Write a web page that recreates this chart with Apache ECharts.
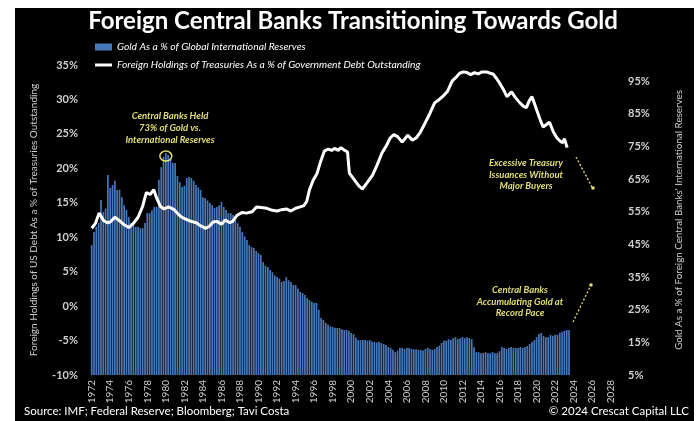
<!DOCTYPE html>
<html><head><meta charset="utf-8">
<script src="https://cdn.jsdelivr.net/npm/echarts@6/dist/echarts.min.js"></script>
<style>html,body{margin:0;padding:0;background:#fff;} #c{width:699px;height:421px;}</style>
</head><body><div id="c"></div>
<script>
const titleText = 'Foreign Central Banks Transitioning Towards Gold';
const goldSeriesName = 'Gold As a % of Global International Reserves';
const treasSeriesName = 'Foreign Holdings of Treasuries As a % of Government Debt Outstanding';
const leftAxisTitle = 'Foreign Holdings of US Debt As a % of Treasuries Outstanding';
const rightAxisTitle = "Gold As a % of Foreign Central Banks' International Reserves";
const sourceText = 'Source: IMF; Federal Reserve; Bloomberg; Tavi Costa';
const copyrightText = '\u00A9 2024 Crescat Capital LLC';
const xTickYears = [1972,1974,1976,1978,1980,1982,1984,1986,1988,1990,1992,1994,1996,1998,2000,2002,2004,2006,2008,2010,2012,2014,2016,2018,2020,2022,2024,2026,2028];

// Gold as % of reserves, quarterly from 1972 Q1 (right axis)
const goldStartYear = 1972;
const goldPct = [
  44.8,48.8,50.5,51.6, 58.6,55.0,56.0,66.3, 62.3,63.2,64.5,61.7, 61.7,59.5,57.0,55.6,
  53.4,51.6,51.0,50.4, 50.4,50.0,50.0,51.6, 54.6,54.6,55.5,56.5, 56.5,64.8,68.7,71.8,
  73.0,72.4,71.5,70.0, 70.0,66.0,64.1,62.6, 63.0,65.4,65.7,65.4, 64.5,63.2,62.5,61.7,
  59.5,59.2,58.5,57.7, 57.0,56.2,56.5,57.0, 58.0,56.5,55.6,54.6, 54.6,54.0,52.5,51.5,
  50.4,48.8,47.5,46.4, 44.8,44.2,43.9,43.0, 42.4,41.8,39.6,38.5, 38.1,37.2,36.5,35.5,
  35.0,34.5,33.5,33.8, 35.0,34.0,33.5,32.6, 32.6,31.5,30.5,30.1, 29.5,28.6,28.0,27.5,
  27.1,27.1,25.0,22.5, 21.9,21.0,20.5,19.9, 19.7,19.5,19.4,19.4, 19.0,18.8,18.8,18.5,
  17.9,17.5,16.5,15.7, 15.7,15.7,15.7,15.5, 15.7,15.3,15.1,15.0, 15.1,14.8,14.5,14.2,
  13.6,13.3,12.7,12.0, 12.5,13.3,13.3,13.0, 13.3,13.3,13.0,12.9, 12.9,12.7,12.7,12.5,
  13.0,13.3,13.0,12.7, 13.0,13.6,14.0,14.8, 15.5,15.5,16.0,15.7, 16.3,16.6,16.0,16.3,
  16.6,16.3,16.6,16.3, 16.0,13.5,12.0,12.0, 11.7,11.8,12.0,11.7, 11.7,12.0,11.7,11.7,
  12.3,13.6,13.3,13.0, 13.3,13.6,13.3,13.3, 13.3,13.6,13.3,13.6, 13.9,14.5,15.1,15.7,
  16.6,17.6,17.9,17.0, 16.6,16.6,17.3,17.0, 17.3,17.3,17.9,18.2, 18.5,18.8,18.8
];

// Foreign holdings of Treasuries % (left axis), [year, value]
const treasPct = [
  [1972.0,11.3],[1972.4,12.0],[1972.8,13.5],[1973.3,12.4],[1973.7,12.1],[1974.0,12.2],[1974.5,12.9],
  [1975.0,12.4],[1975.5,11.8],[1976.0,11.4],[1976.5,12.0],[1977.0,12.9],[1977.5,14.5],[1977.9,16.5],
  [1978.3,16.2],[1978.7,16.9],[1979.0,15.7],[1979.4,14.5],[1979.8,14.1],[1980.3,14.4],[1980.9,14.0],
  [1981.3,13.4],[1981.7,12.9],[1982.2,12.6],[1982.7,12.3],[1983.3,12.1],[1983.8,11.6],[1984.3,11.3],
  [1984.7,11.6],[1985.1,12.2],[1985.5,12.3],[1986.0,11.9],[1986.4,12.5],[1986.9,12.1],[1987.2,12.3],
  [1987.7,13.2],[1988.2,13.6],[1988.7,13.5],[1989.3,13.7],[1989.8,14.4],[1990.3,14.3],[1990.9,14.2],
  [1991.5,13.9],[1992.0,13.8],[1992.5,14.0],[1993.0,14.1],[1993.5,13.8],[1994.0,14.2],[1994.5,14.4],
  [1994.9,14.6],[1995.2,15.2],[1995.5,16.9],[1995.9,18.3],[1996.3,19.2],[1996.7,21.0],[1997.1,22.5],
  [1997.5,22.8],[1997.9,22.6],[1998.2,22.9],[1998.6,22.6],[1998.9,23.0],[1999.3,22.6],[1999.6,22.4],
  [1999.8,19.3],[2000.3,18.4],[2000.8,17.5],[2001.2,17.0],[2001.7,17.9],[2002.3,19.0],[2002.8,20.5],
  [2003.3,22.2],[2003.8,23.3],[2004.2,24.4],[2004.6,24.9],[2005.0,24.6],[2005.5,23.8],[2006.1,24.8],
  [2006.6,24.1],[2007.0,24.4],[2007.4,25.1],[2007.9,26.4],[2008.5,28.0],[2009.0,29.5],[2009.5,30.0],
  [2010.0,30.6],[2010.4,31.2],[2010.9,32.7],[2011.3,33.2],[2011.7,33.8],[2012.1,34.0],[2012.5,33.9],
  [2012.9,33.6],[2013.3,33.9],[2013.7,33.7],[2014.1,34.0],[2014.6,34.0],[2015.0,33.8],[2015.3,33.7],
  [2015.7,33.0],[2016.0,32.4],[2016.4,31.5],[2016.8,30.4],[2017.3,31.1],[2017.7,30.3],[2018.2,29.5],
  [2018.6,29.0],[2018.9,28.8],[2019.2,29.8],[2019.5,30.4],[2019.8,29.3],[2020.0,28.5],[2020.4,27.0],
  [2020.7,26.0],[2021.0,26.3],[2021.4,26.7],[2021.8,25.3],[2022.2,24.4],[2022.5,24.0],[2022.8,23.7],
  [2023.0,24.3],[2023.3,23.0]
];

const annotPeak = ['Central Banks Held', '73% of Gold vs.', 'International Reserves'];
const annotTreasury = ['Excessive Treasury', 'Issuances Without', 'Major Buyers'];
const annotGold = ['Central Banks', 'Accumulating Gold at', 'Record Pace'];

const goldData = goldPct.map((v, i) => [goldStartYear + i * 0.25, v]);

const FONT = 'Lato, "Liberation Sans", sans-serif';
const YEL = '#e2dd74';
const LBL = '#cfcfcf';

const chart = echarts.init(document.getElementById('c'), null, {renderer: 'canvas'});

function textLines(lines, cx, y0, dy) {
  return lines.map((t, i) => ({
    type: 'text', x: cx, y: y0 + i * dy, z: 50,
    style: {text: t, fill: YEL, font: 'italic bold 9.5px ' + FONT, textAlign: 'center', textVerticalAlign: 'middle'}
  }));
}

const option = {
  backgroundColor: '#000',
  animation: false,
  textStyle: {fontFamily: FONT},
  grid: {left: 88, right: 79, top: 65, bottom: 46, containLabel: false},
  legend: {
    orient: 'vertical', left: 95, top: 42, padding: 0, itemGap: 8, itemWidth: 17, itemHeight: 7,
    textStyle: {color: '#ffffff', fontStyle: 'italic', fontSize: 10.3, fontFamily: FONT},
    data: [
      {name: goldSeriesName, icon: 'rect'},
      {name: treasSeriesName, icon: 'path://M0,0H17V3H0Z', itemStyle: {color: '#ffffff'}}
    ]
  },
  xAxis: {
    type: 'value', min: 1971.6, max: 2029,
    axisLine: {show: false}, axisTick: {show: false}, splitLine: {show: false},
    axisLabel: {
      customValues: xTickYears, rotate: 90, color: LBL, fontSize: 10, margin: 5,
      formatter: v => String(v)
    }
  },
  yAxis: [
    {
      type: 'value', min: -10, max: 35, interval: 5, position: 'left',
      axisLine: {show: false}, axisTick: {show: false}, splitLine: {show: false},
      axisLabel: {formatter: '{value}%', color: LBL, fontSize: 11, fontWeight: 'bold', margin: 10},
      name: leftAxisTitle, nameLocation: 'middle', nameGap: 49,
      nameTextStyle: {color: LBL, fontSize: 10}
    },
    {
      type: 'value', min: 5, max: 100, interval: 10, position: 'right',
      axisLine: {show: false}, axisTick: {show: false}, splitLine: {show: false},
      axisLabel: {formatter: '{value}%', color: LBL, fontSize: 11, fontWeight: 'bold', margin: 8, showMaxLabel: false},
      name: rightAxisTitle, nameLocation: 'middle', nameGap: 54, nameRotate: 90,
      nameTextStyle: {color: LBL, fontSize: 9.8}
    }
  ],
  series: [
    {
      name: goldSeriesName, type: 'bar', yAxisIndex: 1, data: goldData,
      barWidth: 1.7, itemStyle: {color: '#4778b9'}, z: 2
    },
    {
      name: treasSeriesName, type: 'line', yAxisIndex: 0, data: treasPct,
      symbol: 'none', lineStyle: {color: '#ffffff', width: 3}, itemStyle: {color: '#ffffff'}, z: 5
    }
  ]
};
chart.setOption(option);

// annotation positioned on the peak bar
let peakIdx = 0;
goldPct.forEach((v, i) => { if (v > goldPct[peakIdx]) peakIdx = i; });
const peakPx = chart.convertToPixel({xAxisIndex: 0, yAxisIndex: 1}, goldData[peakIdx]);

const graphics = [
  {type: 'rect', shape: {x: 0, y: 0, width: 15, height: 421}, style: {fill: '#fff'}, z: 100},
  {type: 'rect', shape: {x: 694, y: 0, width: 5, height: 421}, style: {fill: '#fff'}, z: 100},
  {type: 'rect', shape: {x: 0, y: 0, width: 699, height: 8}, style: {fill: '#fff'}, z: 100},
  {type: 'text', x: 353, y: 21, z: 50,
   style: {text: titleText, fill: '#fff', font: 'bold 24px ' + FONT, textAlign: 'center', textVerticalAlign: 'middle'}},
  {type: 'text', x: 24, y: 411, z: 50,
   style: {text: sourceText, fill: '#fff', font: '11.5px ' + FONT, textAlign: 'left', textVerticalAlign: 'middle'}},
  {type: 'text', x: 689, y: 411, z: 50,
   style: {text: copyrightText, fill: '#fff', font: '11.5px ' + FONT, textAlign: 'right', textVerticalAlign: 'middle'}},
  {type: 'ellipse', z: 50, shape: {cx: peakPx[0], cy: peakPx[1] + 3, rx: 6, ry: 5},
   style: {fill: 'none', stroke: YEL, lineWidth: 1.5}},
  {type: 'line', z: 50, shape: {x1: 576, y1: 157, x2: 592, y2: 187}, style: {stroke: YEL, lineWidth: 1.3, lineDash: [2, 2]}},
  {type: 'circle', z: 50, shape: {cx: 593, cy: 188, r: 1.8}, style: {fill: YEL}},
  {type: 'line', z: 50, shape: {x1: 573, y1: 322, x2: 590, y2: 287}, style: {stroke: YEL, lineWidth: 1.3, lineDash: [2, 2]}},
  {type: 'circle', z: 50, shape: {cx: 591, cy: 285, r: 1.8}, style: {fill: YEL}}
].concat(textLines(annotPeak, 170, 116, 12))
 .concat(textLines(annotTreasury, 526, 163, 11.5))
 .concat(textLines(annotGold, 520, 290, 11.5));

chart.setOption({graphic: graphics});
</script>
</body></html>
